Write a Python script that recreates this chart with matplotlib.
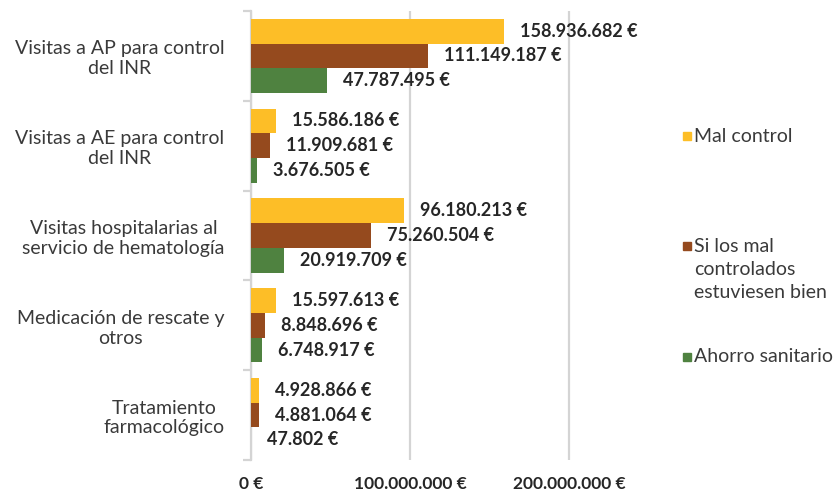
import matplotlib
matplotlib.use("Agg")
import matplotlib.pyplot as plt
import numpy as np
from matplotlib.patches import Rectangle

categories = ["Visitas a AP para control\ndel INR",
              "Visitas a AE para control\ndel INR",
              "Visitas hospitalarias al\nservicio de hematología",
              "Medicación de rescate y\notros",
              "Tratamiento\nfarmacológico"]
series_names = ["Mal control",
                "Si los mal\ncontrolados\nestuviesen bien",
                "Ahorro sanitario"]
mal_control = [158936682, 15586186, 96180213, 15597613, 4928866]
bien_controlados = [111149187, 11909681, 75260504, 8848696, 4881064]
ahorro = [47787495, 3676505, 20919709, 6748917, 47802]
xticks = [0, 100000000, 200000000]

colors = ["#FDBE27", "#954A1E", "#4F8240"]
grid_color = "#D4D4D4"
text_color = "#3A3A3A"

plt.rcParams['font.family'] = ['Lato', 'DejaVu Sans']


def euro(v):
    return f"{v:,.0f}".replace(",", ".") + " €"


fig = plt.figure(figsize=(8.38, 4.94), dpi=100)
ax = fig.add_axes([251 / 838, 1 - 460 / 494, 397.5 / 838, 449 / 494])

y = np.arange(len(categories))
h = 0.276
for k, (vals, col) in enumerate(zip([mal_control, bien_controlados, ahorro], colors)):
    pos = y + (k - 1) * h
    ax.barh(pos, vals, height=h, color=col, zorder=3)
    for p, v in zip(pos, vals):
        ax.annotate(euro(v), (v, p), xytext=(11.5, 0), textcoords="offset points",
                    ha="left", va="center", fontsize=13, fontweight="bold",
                    color="#262626", zorder=4)

ax.set_xlim(0, 2.5e8)
ax.set_ylim(len(categories) - 0.5, -0.5)

ax.set_xticks(xticks)
ax.set_xticklabels([euro(v) for v in xticks], fontsize=12.5, fontweight="bold", color="#262626")
ax.tick_params(axis="x", length=0, pad=11.5)
ax.grid(axis="x", color=grid_color, linewidth=1.6, zorder=0)

ax.set_yticks(y)
ax.set_yticklabels(categories, fontsize=14, color=text_color,
                   multialignment="center", linespacing=1.2)
ax.tick_params(axis="y", which="major", length=0, pad=19)
ax.set_yticks(np.arange(-0.5, len(categories)), minor=True)
ax.tick_params(axis="y", which="minor", length=6, width=1.6, color=grid_color)

for s in ["top", "right", "bottom"]:
    ax.spines[s].set_visible(False)
ax.spines["left"].set_color(grid_color)
ax.spines["left"].set_linewidth(1.6)

# legend, laid out like the original (square next to the first line)
W, H = 838, 494
legend_rows = [136, 246, 357]
for name, col, yc in zip(series_names, colors, legend_rows):
    fig.patches.append(Rectangle((683 / W, 1 - (yc + 4) / H), 8 / W, 8 / H,
                                 transform=fig.transFigure, color=col))
    for i, line in enumerate(name.split("\n")):
        fig.text(694 / W, 1 - (yc + i * 23.5) / H, line, fontsize=14,
                 color=text_color, ha="left", va="center")

fig.savefig("out.png", dpi=100)
